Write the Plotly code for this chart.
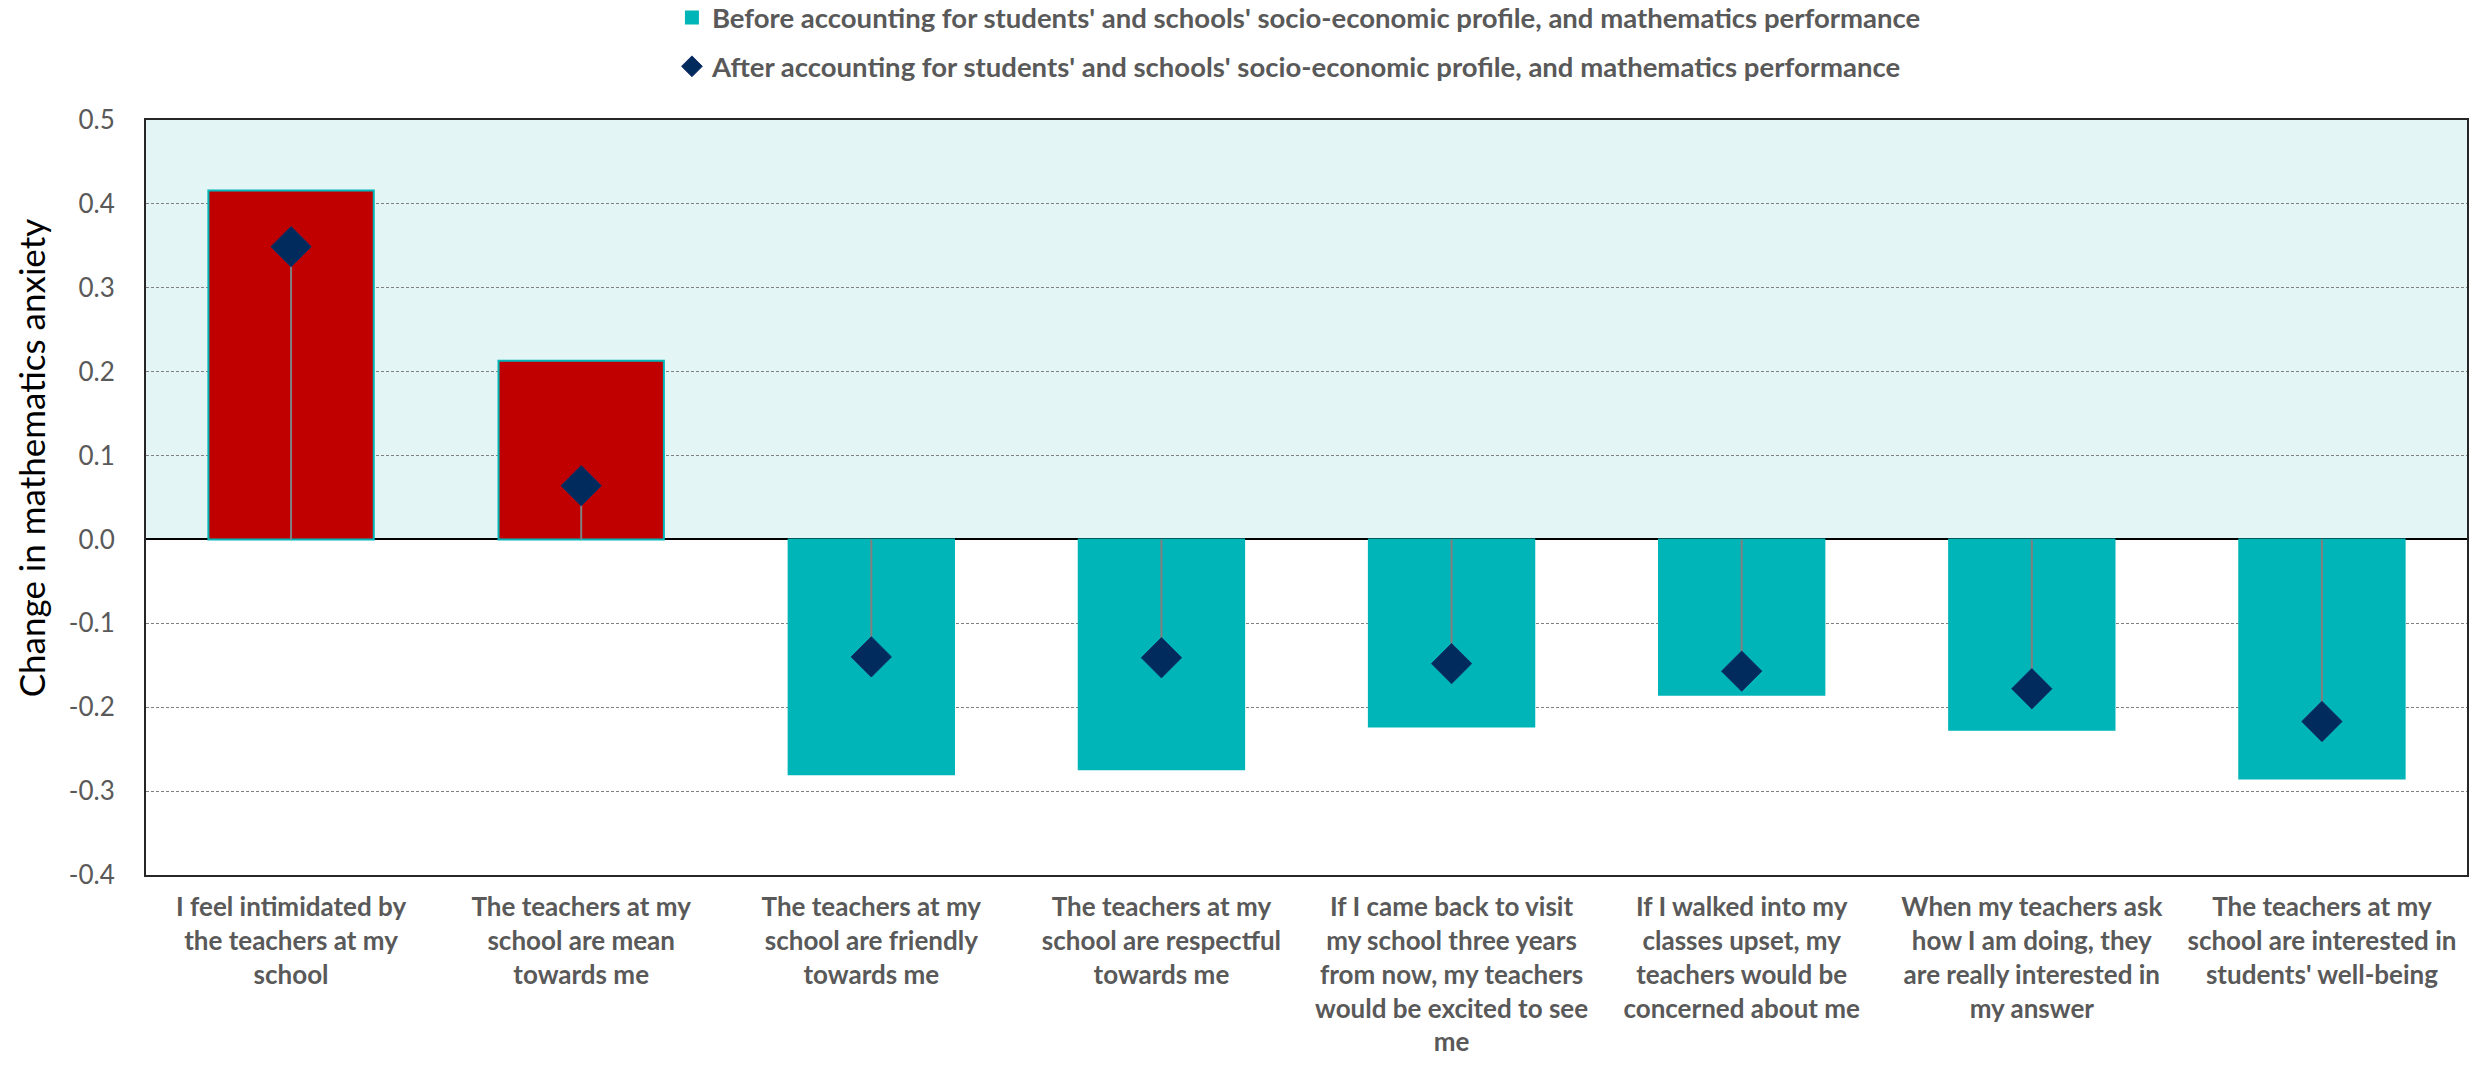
import plotly.graph_objects as go

# Statements about teachers (x-axis categories, wrapped for display)
categories = [
    "I feel intimidated by<br>the teachers at my<br>school",
    "The teachers at my<br>school are mean<br>towards me",
    "The teachers at my<br>school are friendly<br>towards me",
    "The teachers at my<br>school are respectful<br>towards me",
    "If I came back to visit<br>my school three years<br>from now, my teachers<br>would be excited to see<br>me",
    "If I walked into my<br>classes upset, my<br>teachers would be<br>concerned about me",
    "When my teachers ask<br>how I am doing, they<br>are really interested in<br>my answer",
    "The teachers at my<br>school are interested in<br>students' well-being",
]

# Change in mathematics anxiety
before_values = [0.416, 0.213, -0.280, -0.274, -0.223, -0.185, -0.227, -0.285]
after_values = [0.349, 0.064, -0.140, -0.141, -0.148, -0.157, -0.178, -0.217]

before_name = "Before accounting for students' and schools' socio-economic profile, and mathematics performance"
after_name = "After accounting for students' and schools' socio-economic profile, and mathematics performance"
y_title = "Change in mathematics anxiety"

y_ticks = [0.5, 0.4, 0.3, 0.2, 0.1, 0.0, -0.1, -0.2, -0.3, -0.4]
y_tick_text = ["0.5", "0.4", "0.3", "0.2", "0.1", "0.0", "-0.1", "-0.2", "-0.3", "-0.4"]

TEAL = "#00B5B8"
RED = "#C00000"
NAVY = "#002B5C"
GREY_TEXT = "#595959"
FONT = "Lato"

neg_vals = [v if v < 0 else None for v in before_values]
pos_vals = [v if v >= 0 else None for v in before_values]

fig = go.Figure()

# Bars: negative changes in teal (legend entry), positive changes in red
fig.add_trace(go.Bar(
    x=categories, y=neg_vals, name=before_name, width=0.57,
    marker=dict(color=TEAL, line=dict(color=TEAL, width=2)),
    legendgroup="before",
))
fig.add_trace(go.Bar(
    x=categories, y=pos_vals, name=before_name, width=0.57,
    marker=dict(color=RED, line=dict(color=TEAL, width=2)),
    showlegend=False, legendgroup="before",
))

# Diamonds with a stem running back to zero
stem_up = [-v if v < 0 else 0 for v in after_values]
stem_down = [v if v > 0 else 0 for v in after_values]
fig.add_trace(go.Scatter(
    x=categories, y=after_values, name=after_name, mode="markers",
    marker=dict(symbol="diamond", size=31, color=NAVY,
                line=dict(color="#14306A", width=1)),
    error_y=dict(type="data", symmetric=False, array=stem_up,
                 arrayminus=stem_down, width=0, color="#808080", thickness=2),
    legendgroup="after",
))

# Shaded band for the positive half of the axis
fig.add_shape(type="rect", xref="paper", yref="y", x0=0, x1=1, y0=0, y1=0.5,
              fillcolor="#E3F5F5", line=dict(width=0), layer="below")

# Vertical axis title
fig.add_annotation(
    text=y_title, textangle=-90, showarrow=False,
    xref="paper", yref="paper", x=-0.0495, y=0.552,
    xanchor="center", yanchor="middle",
    font=dict(family=FONT, size=35, color="#000000"),
)

fig.update_layout(
    template="none",
    width=2489, height=1066,
    margin=dict(l=146, r=22, t=120, b=191, autoexpand=False),
    paper_bgcolor="white", plot_bgcolor="white",
    barmode="overlay",
    showlegend=True,
    legend=dict(
        orientation="v", x=0.2266, xanchor="left", y=1.168, yanchor="top",
        font=dict(family=FONT, size=27.5, color=GREY_TEXT, weight="bold"),
        traceorder="grouped", tracegroupgap=10,
        bgcolor="rgba(0,0,0,0)", itemwidth=30,
    ),
    font=dict(family=FONT, color=GREY_TEXT),
)

fig.update_xaxes(
    automargin=False,
    showgrid=False, showline=True, mirror=True, linecolor="#262626", linewidth=2,
    tickfont=dict(family=FONT, size=26, color=GREY_TEXT, weight="bold"),
    tickangle=0, ticks="", ticklabelstandoff=8,
)
fig.update_yaxes(
    automargin=False,
    range=[-0.4, 0.5], tickvals=y_ticks, ticktext=y_tick_text,
    showgrid=True, gridcolor="#808080", gridwidth=1, griddash="3px,2px",
    zeroline=True, zerolinecolor="#000000", zerolinewidth=2,
    showline=True, mirror=True, linecolor="#262626", linewidth=2,
    tickfont=dict(family=FONT, size=26, color=GREY_TEXT),
    ticks="", ticklabelstandoff=24,
)

fig.write_html("out.html")
